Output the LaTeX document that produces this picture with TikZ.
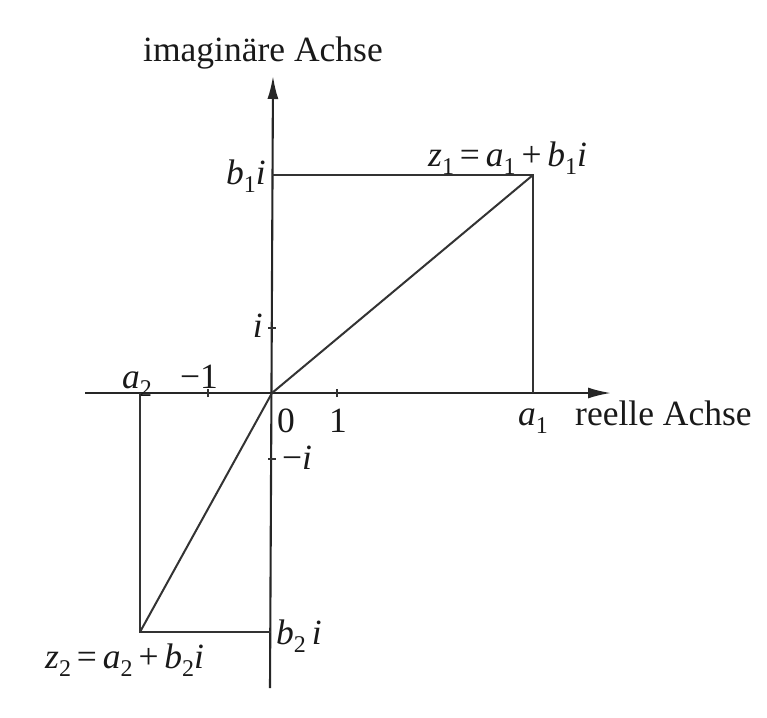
\documentclass[tikz,border=0pt]{standalone}
\usepackage{fontspec}
\setmainfont{Liberation Serif}
\usetikzlibrary{arrows.meta}
\newcommand\sbs[1]{\raisebox{-0.24em}{\fontsize{24}{24}\selectfont #1}}
\begin{document}
\begin{tikzpicture}[x=1pt,y=-1pt,
  lbl/.style={font=\fontsize{35.5}{40}\selectfont, inner sep=0pt, text=black!90},
  axisline/.style={line width=2.1pt, draw=black!85, -{Latex[length=23pt,width=11pt]}},
  geo/.style={line width=2pt, draw=black!80},
  tick/.style={line width=1.6pt, draw=black!80}]
\useasboundingbox[fill=white] (0,0) rectangle (767,717);
% coordinates
\coordinate (O) at (272,393);
\coordinate (XL) at (85,393);
\coordinate (XR) at (611,393);
\coordinate (YB) at (270,688);
\coordinate (YT) at (273,76);
\coordinate (A1) at (533,393);
\coordinate (Z1) at (533,175);
\coordinate (B1) at (272,175);
\coordinate (A2) at (140,393);
\coordinate (Z2) at (140,632);
\coordinate (B2) at (271,632);
% axes
\draw[axisline] (XL) -- (XR);
\draw[axisline] (YB) -- (YT);
% geometry
\draw[geo] (B1) -- (Z1) -- (A1);
\draw[geo] (O) -- (Z1);
\draw[geo] (A2) -- (Z2) -- (B2);
\draw[geo] (O) -- (Z2);
% ticks
\coordinate (Tm1) at (208,393);
\coordinate (Tp1) at (337,393);
\coordinate (Ti) at (272,328);
\coordinate (Tmi) at (272,459);
\draw[tick] ([yshift=-4pt]Tm1) -- ([yshift=4pt]Tm1);
\draw[tick] ([yshift=-4pt]Tp1) -- ([yshift=4pt]Tp1);
\draw[tick] ([xshift=-4pt]Ti) -- ([xshift=4pt]Ti);
\draw[tick] ([xshift=-4pt]Tmi) -- ([xshift=4pt]Tmi);
% labels
\node[lbl, anchor=base] (lim) at (263,62) {imaginäre Achse};
\node[lbl, anchor=base west] (lre) at (575,425) {reelle Achse};
\node[lbl, anchor=base] (la1) at (533,425) {\textit{a}\sbs{1}};
\node[lbl, anchor=base west] (lz1) at (428,166) {\textit{z}\sbs{1}\,=\,\textit{a}\sbs{1}\,+\,\textit{b}\sbs{1}\textit{i}};
\node[lbl, anchor=east] (lb1) at (266,176) {\textit{b}\sbs{1}\textit{i}};
\node[lbl, anchor=east] (li) at (263,326) {\textit{i}};
\node[lbl, anchor=base] (la2) at (137,388) {\textit{a}\sbs{2}};
\node[lbl, anchor=base] (lm1) at (199,388) {−1};
\node[lbl, anchor=base west] (l0) at (277,432) {0};
\node[lbl, anchor=base] (l1) at (338,432) {1};
\node[lbl, anchor=west] (lmi) at (282,458) {−\textit{i}};
\node[lbl, anchor=west] (lb2) at (276,636) {\textit{b}\sbs{2}\,\textit{i}};
\node[lbl, anchor=base west] (lz2) at (45,668) {\textit{z}\sbs{2}\,=\,\textit{a}\sbs{2}\,+\,\textit{b}\sbs{2}\textit{i}};
\end{tikzpicture}
\end{document}
